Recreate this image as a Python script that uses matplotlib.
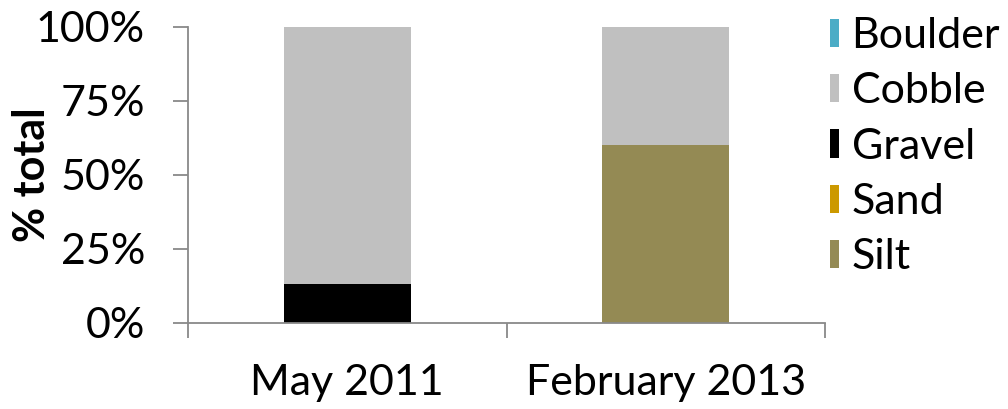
import matplotlib
matplotlib.use("Agg")
import matplotlib.pyplot as plt
from matplotlib.patches import Patch
from matplotlib.ticker import FixedLocator

plt.rcParams['font.family'] = ['Lato', 'DejaVu Sans']

categories = ["May 2011", "February 2013"]
series_names = ["Boulder", "Cobble", "Gravel", "Sand", "Silt"]
boulder = [0, 0]
cobble = [87, 40]
gravel = [13, 0]
sand = [0, 0]
silt = [0, 60]
colors = {"Boulder": "#4BACC6", "Cobble": "#C0C0C0", "Gravel": "#000000",
          "Sand": "#CC9900", "Silt": "#948A54"}
yticks = [0, 25, 50, 75, 100]
ytick_labels = ["0%", "25%", "50%", "75%", "100%"]

FS = 31

fig = plt.figure(figsize=(10.08, 4.09), dpi=100)
ax = fig.add_axes([0.1865, 0.211, 0.632, 0.7237])

x = list(range(len(categories)))
stack_order = [("Silt", silt), ("Sand", sand), ("Gravel", gravel),
               ("Cobble", cobble), ("Boulder", boulder)]
bottom = [0, 0]
for name, vals in stack_order:
    ax.bar(x, vals, bottom=bottom, width=0.4, color=colors[name], linewidth=0)
    bottom = [b + v for b, v in zip(bottom, vals)]

ax.set_xlim(-0.5, 1.5)
ax.set_ylim(0, 100)
ax.set_yticks(yticks)
ax.set_yticklabels(ytick_labels, fontsize=FS)
ax.set_xticks(x)
ax.set_xticklabels(categories, fontsize=FS)
ax.tick_params(axis='x', which='major', length=0, pad=30)
ax.xaxis.set_minor_locator(FixedLocator([-0.5, 0.5, 1.5]))
ax.tick_params(axis='x', which='minor', length=11, width=1.3, color='#898989', direction='out')
ax.tick_params(axis='y', length=11, width=1.3, color='#898989', direction='out', pad=20)

for s in ['top', 'right']:
    ax.spines[s].set_visible(False)
for s in ['left', 'bottom']:
    ax.spines[s].set_color('#898989')
    ax.spines[s].set_linewidth(1.3)

# y-axis title placed in figure coordinates to the left of the tick labels
fig.text(32 / 1008, 1 - 175 / 409, "% total", rotation=90, ha='center', va='center',
         fontsize=FS, fontweight='bold')

handles = [Patch(facecolor=colors[n], edgecolor='none', label=n) for n in series_names]
fig.legend(handles=handles, loc='upper left', bbox_to_anchor=(0.823, 0.958),
           frameon=False, fontsize=FS, handlelength=0.21, handleheight=0.63,
           handletextpad=0.3, labelspacing=0.4, borderaxespad=0, borderpad=0)

fig.savefig("out.png", dpi=100)
